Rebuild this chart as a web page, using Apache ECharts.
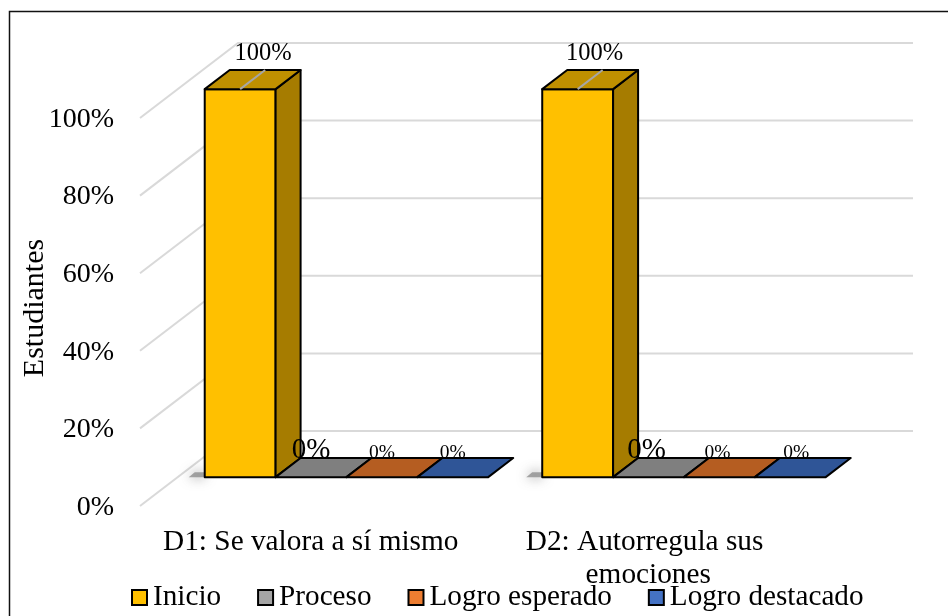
<!DOCTYPE html>
<html><head><meta charset="utf-8">
<style>html,body{margin:0;padding:0;background:#fff}#c{width:948px;height:616px}</style>
<script src="https://cdn.jsdelivr.net/npm/echarts@6/dist/echarts.min.js"></script>
</head><body><div id="c"></div>
<script>
const categories = ['D1: Se valora a sí mismo', 'D2: Autorregula sus emociones'];
const seriesNames = ['Inicio', 'Proceso', 'Logro esperado', 'Logro destacado'];
const inicio = [100, 100];
const proceso = [0, 0];
const logroEsperado = [0, 0];
const logroDestacado = [0, 0];
const yTicks = [0, 20, 40, 60, 80, 100];

const seriesValues = [inicio, proceso, logroEsperado, logroDestacado];
const FONT = '"Liberation Serif","Times New Roman",serif';
const legendCols = ['#FFC000', '#A5A5A5', '#ED7D31', '#4472C4'];
const frontCols = ['#FFC000', '#7F7F7F', '#B55D21', '#2F5597'];
const topCols = ['#BF9000', '#7F7F7F', '#B55D21', '#2F5597'];
const sideCols = ['#A67C00', '#6E6E6E', '#9C5020', '#284A82'];
const labelFont = [24.5, 29, 19.5, 19.5];
const labelDy = [-16, -8, -5, -5];
const labelDx = [[-2, -25, -25, -25], [-8, -27, -27, -19]];

const DX = 98, DY = 75;      // depth projection of the floor
const D0 = 0.385, D1 = 0.64; // where the bars sit along the depth
const GAP = 27 / 337.5;

function wallRender(params, api) {
  const y = api.coord([0, api.value(1)])[1];
  const cs = params.coordSys;
  const style = { stroke: '#D9D9D9', lineWidth: 2, fill: 'none' };
  return { type: 'group', children: [
    { type: 'polyline', shape: { points: [[cs.x, y], [cs.x + DX, y - DY], [cs.x + cs.width + DX, y - DY]] }, style }
  ]};
}

function barRender(si) {
  return function (params, api) {
    const cat = api.value(0), val = api.value(1);
    const band = api.size([1, 0])[0];
    const c = api.coord([cat, 0]);
    const t = api.coord([cat, val]);
    const w = band * (1 - 2 * GAP) / 4;
    const x = c[0] - band / 2 + band * GAP + si * w;
    const fx = DX * D0, fy = -DY * D0, bx = DX * D1, by = -DY * D1;
    const xl = x + fx, xr = x + w + fx, yb = c[1] + fy, yt = t[1] + fy;
    const ox = bx - fx, oy = by - fy;
    const line = { stroke: '#000', lineWidth: 2, lineJoin: 'round' };
    const children = [];
    if (val > 0) {
      children.push({ type: 'polygon', shape: { points: [[xl - 10, yb - 5], [xl, yb - 5], [xl, yb], [xl - 16, yb]] },
        style: { fill: 'rgba(130,130,130,0.7)', shadowBlur: 12, shadowColor: 'rgba(70,70,70,0.9)' } });
      children.push({ type: 'rect', shape: { x: xl, y: yt, width: w, height: yb - yt }, style: Object.assign({ fill: frontCols[si] }, line) });
      children.push({ type: 'polygon', shape: { points: [[xr, yt], [xr + ox, yt + oy], [xr + ox, yb + oy], [xr, yb]] }, style: Object.assign({ fill: sideCols[si] }, line) });
    }
    children.push({ type: 'polygon', shape: { points: [[xl, yt], [xl + ox, yt + oy], [xr + ox, yt + oy], [xr, yt]] }, style: Object.assign({ fill: topCols[si] }, line) });
    if (val > 0) {
      children.push({ type: 'line', shape: { x1: xl + w / 2, y1: yt, x2: xl + w / 2 + ox, y2: yt + oy }, style: { stroke: '#A6A6A6', lineWidth: 2 } });
    }
    children.push({ type: 'text', style: {
      text: val + '%', x: xl + w / 2 + ox + labelDx[cat][si], y: yt + oy + labelDy[si],
      fill: '#000', font: labelFont[si] + 'px ' + FONT, align: 'center', verticalAlign: 'middle' } });
    return { type: 'group', children };
  };
}

const series = [{
  type: 'custom', coordinateSystem: 'cartesian2d', silent: true, clip: false, z: 1,
  data: yTicks.map(v => [0, v]), encode: { x: 0, y: 1 }, renderItem: wallRender
}];
seriesNames.forEach((name, si) => series.push({
  type: 'custom', name, coordinateSystem: 'cartesian2d', clip: false, z: 2 + si,
  itemStyle: { color: legendCols[si] },
  data: seriesValues[si].map((v, i) => [i, v]), encode: { x: 0, y: 1 }, renderItem: barRender(si)
}));

const chart = echarts.init(document.getElementById('c'), null, { renderer: 'canvas' });
chart.setOption({
  animation: false,
  backgroundColor: '#fff',
  textStyle: { fontFamily: FONT, color: '#000' },
  grid: { left: 140, top: 118, width: 675, height: 388, containLabel: false },
  xAxis: { type: 'category', data: categories, axisLine: { show: false }, axisTick: { show: false }, splitLine: { show: false },
    axisLabel: { interval: 0, margin: 20, color: '#000', fontFamily: FONT, fontSize: 29.3, lineHeight: 33, width: 320, overflow: 'break', hideOverlap: false, padding: [0, 0, 0, 4] } },
  yAxis: { type: 'value', min: 0, max: 100, interval: 20,
    name: 'Estudiantes', nameLocation: 'middle', nameGap: 90, nameRotate: 90, nameMoveOverlap: false,
    nameTextStyle: { color: '#000', fontFamily: FONT, fontSize: 30, padding: [0, 0, 0, 8] },
    axisLine: { show: false }, axisTick: { show: false }, splitLine: { show: false },
    axisLabel: { margin: 26, color: '#000', fontFamily: FONT, fontSize: 28, formatter: '{value}%', verticalAlign: 'top', lineHeight: 3 } },
  legend: { data: seriesNames, left: 131, top: 583, itemWidth: 15, itemHeight: 15, itemGap: 36, icon: 'rect',
    itemStyle: { borderColor: '#000', borderWidth: 2 },
    textStyle: { color: '#000', fontFamily: FONT, fontSize: 29.2, padding: [0, 0, 0, 1] }, padding: 0, selectedMode: false },
  graphic: [{ type: 'polyline', silent: true, z: 100,
    shape: { points: [[9.5, 640], [9.5, 11.5], [960, 11.5]] }, style: { stroke: '#111', lineWidth: 1.5, fill: 'none' } }],
  series
});
</script></body></html>
